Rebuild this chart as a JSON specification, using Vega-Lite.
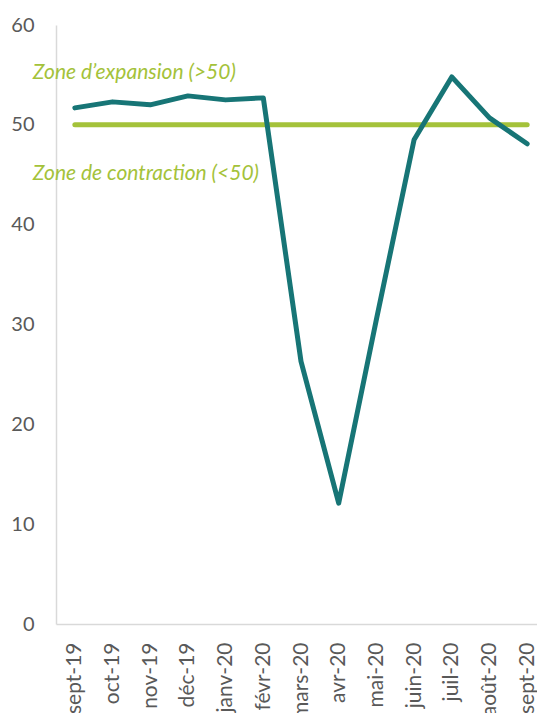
{
  "$schema": "https://vega.github.io/schema/vega-lite/v6.json",
  "autosize": "none",
  "width": 490,
  "height": 599,
  "padding": {"left": 56, "top": 25, "right": 0, "bottom": 89},
  "background": "white",
  "config": {"view": {"stroke": null}, "font": "Lato"},
  "datasets": {
    "pmi": [
      {"mois": "sept-19", "valeur": 51.7},
      {"mois": "oct-19", "valeur": 52.3},
      {"mois": "nov-19", "valeur": 52.0},
      {"mois": "déc-19", "valeur": 52.9},
      {"mois": "janv-20", "valeur": 52.5},
      {"mois": "févr-20", "valeur": 52.7},
      {"mois": "mars-20", "valeur": 26.3},
      {"mois": "avr-20", "valeur": 12.1},
      {"mois": "mai-20", "valeur": 30.5},
      {"mois": "juin-20", "valeur": 48.5},
      {"mois": "juil-20", "valeur": 54.8},
      {"mois": "août-20", "valeur": 50.7},
      {"mois": "sept-20", "valeur": 48.1}
    ],
    "seuil": [
      {"mois": "sept-19", "valeur": 50},
      {"mois": "sept-20", "valeur": 50}
    ],
    "zones": [
      {"mois": "sept-19", "valeur": 55.2, "texte": "Zone d’expansion (>50)"},
      {"mois": "sept-19", "valeur": 45.1, "texte": "Zone de contraction (<50)"}
    ]
  },
  "encoding": {
    "x": {
      "field": "mois", "type": "ordinal", "sort": null,
      "scale": {"type": "point", "padding": 0.5,
        "domain": ["sept-19","oct-19","nov-19","déc-19","janv-20","févr-20","mars-20","avr-20","mai-20","juin-20","juil-20","août-20","sept-20"]},
      "axis": {"title": null, "labelAngle": -90, "labelFontSize": 21, "labelColor": "#595959",
        "labelPadding": 18, "ticks": false, "domainColor": "#d9d9d9", "domainWidth": 1.5, "grid": false}
    },
    "y": {
      "field": "valeur", "type": "quantitative",
      "scale": {"domain": [0, 60], "nice": false},
      "axis": {"title": null, "values": [0,10,20,30,40,50,60], "labelFontSize": 20, "labelColor": "#595959",
        "labelPadding": 22, "ticks": false, "domainColor": "#d9d9d9", "domainWidth": 1.5, "grid": false}
    }
  },
  "layer": [
    {
      "data": {"name": "seuil"},
      "mark": {"type": "line", "color": "#a4c23a", "strokeWidth": 5, "strokeCap": "round"}
    },
    {
      "data": {"name": "pmi"},
      "mark": {"type": "line", "color": "#177576", "strokeWidth": 5, "strokeCap": "round", "strokeJoin": "round"}
    },
    {
      "data": {"name": "zones"},
      "mark": {"type": "text", "align": "left", "baseline": "middle", "dx": -42, "fontStyle": "italic", "fontSize": 21, "color": "#a4c23a"},
      "encoding": {"text": {"field": "texte"}}
    }
  ]
}
